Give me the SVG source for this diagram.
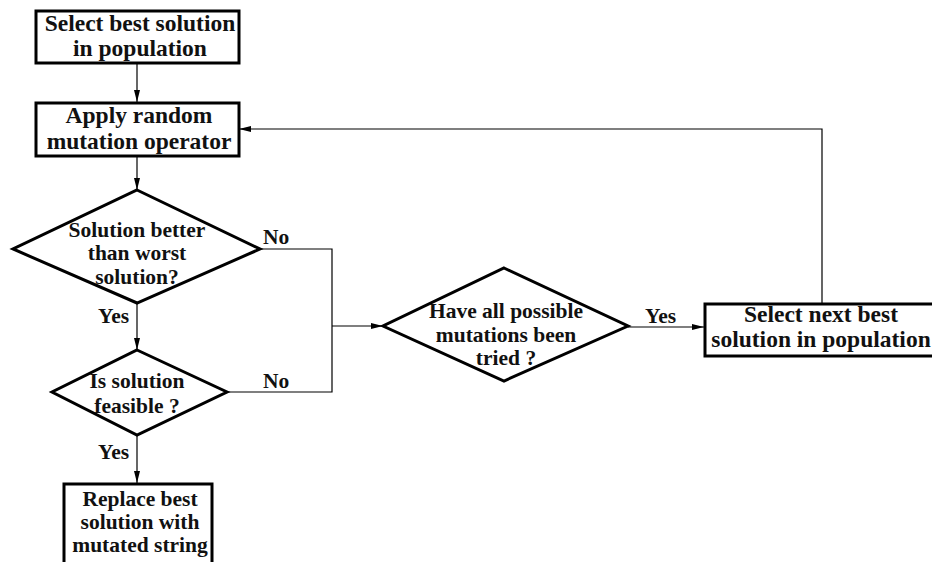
<svg xmlns="http://www.w3.org/2000/svg" width="932" height="562" viewBox="0 0 932 562">
  <style>
    .shape { fill: #fff; stroke: #000; stroke-width: 3; }
    .conn { fill: none; stroke: #000; stroke-width: 1.2; }
    text { font-family: "Liberation Serif", "Times New Roman", serif; font-weight: bold; font-size: 21.5px; fill: #111; }
    .big { font-size: 23.5px; }
    .c { text-anchor: middle; }
  </style>
  <defs>
    <marker id="arr" viewBox="0 0 12 6" refX="12" refY="3" markerWidth="12" markerHeight="6" markerUnits="userSpaceOnUse" orient="auto">
      <path d="M0,0 L12,3 L0,6 Z" fill="#000"/>
    </marker>
  </defs>
  <rect width="932" height="562" fill="#fff"/>

  <g id="connectors">
    <line class="conn" x1="137" y1="63" x2="137" y2="102" marker-end="url(#arr)"/>
    <line class="conn" x1="137" y1="156" x2="137" y2="190" marker-end="url(#arr)"/>
    <line class="conn" x1="137" y1="303" x2="137" y2="350" marker-end="url(#arr)"/>
    <line class="conn" x1="137" y1="435" x2="137" y2="483" marker-end="url(#arr)"/>
    <polyline class="conn" points="260,249 332,249 332,392 227,392"/>
    <line class="conn" x1="332" y1="326" x2="383" y2="326" marker-end="url(#arr)"/>
    <line class="conn" x1="628" y1="327" x2="704" y2="327" marker-end="url(#arr)"/>
    <polyline class="conn" points="822,303 822,129 239,129" marker-end="url(#arr)"/>
  </g>

  <g id="labels">
    <text x="263" y="244">No</text>
    <text x="263" y="388">No</text>
    <text x="98" y="323">Yes</text>
    <text x="98" y="459">Yes</text>
    <text x="645" y="323">Yes</text>
  </g>

  <g id="select-best">
    <rect class="shape" x="36" y="11" width="203" height="52"/>
    <text class="c big" x="140" y="31">Select best solution</text>
    <text class="c big" x="140" y="56">in population</text>
  </g>

  <g id="apply-mutation">
    <rect class="shape" x="36" y="103" width="203" height="53"/>
    <text class="c big" x="139" y="123">Apply random</text>
    <text class="c big" x="139" y="149">mutation operator</text>
  </g>

  <g id="better-than-worst">
    <polygon class="shape" points="137,190 260,249 137,303 13,249"/>
    <text class="c" x="137" y="237">Solution better</text>
    <text class="c" x="137" y="260">than worst</text>
    <text class="c" x="137" y="284">solution?</text>
  </g>

  <g id="is-feasible">
    <polygon class="shape" points="137,350 227,392 137,435 52,392"/>
    <text class="c" x="137" y="388">Is solution</text>
    <text class="c" x="137" y="413">feasible ?</text>
  </g>

  <g id="replace-best">
    <rect class="shape" x="64" y="484" width="148" height="90"/>
    <text class="c" x="140" y="506">Replace best</text>
    <text class="c" x="140" y="529">solution with</text>
    <text class="c" x="140" y="552">mutated string</text>
  </g>

  <g id="all-tried">
    <polygon class="shape" points="504,268 628,326 504,381 383,326"/>
    <text class="c" x="506" y="318">Have all possible</text>
    <text class="c" x="506" y="342">mutations been</text>
    <text class="c" x="506" y="365">tried ?</text>
  </g>

  <g id="select-next">
    <rect class="shape" x="705" y="304" width="230" height="52"/>
    <text class="c big" x="821" y="322">Select next best</text>
    <text class="c big" x="821" y="347">solution in population</text>
  </g>
</svg>
